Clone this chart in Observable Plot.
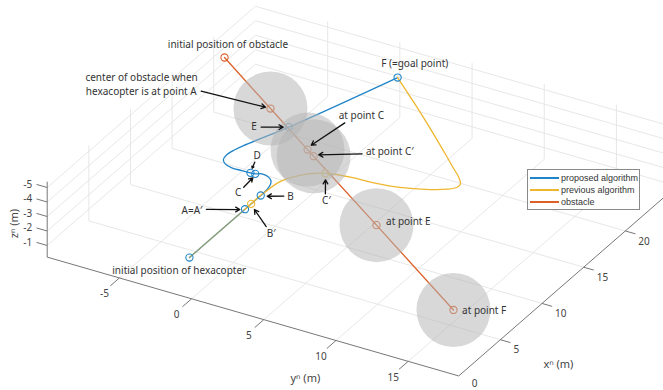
<!DOCTYPE html>
<html><head><meta charset="utf-8">
<script src="https://cdn.jsdelivr.net/npm/d3@7"></script>
<script src="https://cdn.jsdelivr.net/npm/@observablehq/plot@0.6"></script>
<style>
html,body{margin:0;padding:0;background:#fff;overflow:hidden;width:663px;height:390px}
#wrap{position:relative;width:663px;height:390px}
#legend{position:absolute;left:527px;top:169px;width:111px;height:39px;background:#fff;border:1px solid #8a8a8a;font:9px "Liberation Sans",Arial,sans-serif;color:#333}
#legend div{position:absolute;left:2px;height:12px;line-height:12px;white-space:nowrap;padding-left:31px}
#legend i{position:absolute;left:0;top:5px;width:29px;height:2px;display:block}
</style></head><body><div id="wrap"></div>
<script>
// navigation-frame data, all flown at one altitude (m)
const altitude = -3;
const xLim = [0, 25], yLim = [-10, 18.5], zLim = [-0.2, -5.4];
const xTicks = [5, 10, 15, 20], xLabels = [0, 5, 10, 15, 20];
const yTicks = [-5, 0, 5, 10, 15];
const zTicks = [-1, -2, -3, -4, -5];

const proposedX = [0,6.67,8.56,9.24,9.95,10.42,10.74,10.84,10.64,10.60,10.58,10.56,10.78,11.17,11.76,12.56,13.22,16.48,24.87];
const proposedY = [-0.15,-0.15,-0.15,-0.16,-0.29,-0.52,-0.92,-1.39,-1.73,-2.04,-2.63,-3.31,-3.89,-4.24,-4.35,-4.22,-4.03,-2.78,-0.08];
const previousX = [6.67,7.41,8.55,9.27,10.33,11.19,12.02,12.50,12.80,13.14,13.22,13.41,13.77,14.25,14.79,15.29,15.74,16.38,17.10,18.10,20.54,22.80,24.87];
const previousY = [-0.15,-0.15,-0.17,-0.11,-0.03,0.27,0.83,1.36,1.88,3.42,4.76,6.04,7.22,8.32,9.17,9.57,9.54,9.05,8.29,7.26,4.69,2.23,-0.08];
const obstacleX = [21.77,17.86,14.72,14.21,8.95,2.47];
const obstacleY = [-10.28,-4.84,-0.46,0.25,7.64,16.71];
const sharedX = [0,6.67], sharedY = [-0.15,-0.15];

const proposedMarkX = [0,6.67,8.56,10.64,10.60,16.48,24.87];
const proposedMarkY = [-0.15,-0.15,-0.15,-1.73,-2.04,-2.78,-0.08];
const previousMarkX = [7.41,12.80];
const previousMarkY = [-0.15,1.88];
const sphereX = [17.86,14.72,14.21,8.95,2.47];
const sphereY = [-4.84,-0.46,0.25,7.64,16.71];

const noteText = ["initial position of obstacle","E","at point C","at point C′","at point E","at point F","F (=goal point)","initial position of hexacopter","A=A′","B′","B","C′","C","D"];
const noteX = [23.19,15.44,19.83,16.90,10.21,3.33,26.80,-1.64,4.92,4.91,9.35,10.01,8.19,12.56];
const noteY = [-10.86,-4.59,0.32,3.97,9.12,18.34,-0.01,0.09,-2.81,2.68,1.45,3.56,-1.50,-2.71];
const centerNoteLines = ["center of obstacle when","hexacopter is at point A"];
const centerNoteX = [15.49,14.05], centerNoteY = [-16.29,-15.43];

const arrowX1 = [17.58,15.65,18.60,15.91,5.49,5.51,9.18,10.67,8.91,11.83];
const arrowY1 = [-9.48,-4.21,-0.12,2.63,-2.14,1.99,1.09,3.11,-1.53,-2.45];
const arrowX2 = [17.85,16.31,15.28,14.51,6.48,6.92,8.68,12.12,10.16,11.13];
const arrowY2 = [-5.18,-3.07,-0.53,0.43,-0.40,0.36,0.23,2.28,-1.62,-2.23];

const legendNames = ["proposed algorithm","previous algorithm","obstacle"];
const blue = "#1f84c8", yellow = "#efb72f", orange = "#dc6028";
const legendColors = [blue, yellow, orange];

// orthographic view of the MATLAB 3-D axes
const view = (x, y, z = altitude) => [
  46.7 + 8.33 * x + 14.44 * (y + 10),
  259.5 - 7.25 * x + 4.17 * (y + 10) + 14.5 * z
];
const pts = (xs, ys) => xs.map((x, i) => { const [u, v] = view(x, ys[i]); return {u, v}; });
const seg = (a, b) => { const [u1, v1] = view(...a), [u2, v2] = view(...b); return {u1, v1, u2, v2}; };
const [x0, x1] = xLim, [y0, y1] = yLim, [zf, zt] = zLim;

const grid = [
  ...xTicks.map(x => seg([x, y0, zf], [x, y1, zf])),
  ...yTicks.map(y => seg([x0, y, zf], [x1, y, zf])),
  ...xTicks.map(x => seg([x, y0, zf], [x, y0, zt])),
  ...yTicks.map(y => seg([x1, y, zf], [x1, y, zt])),
  ...zTicks.map(z => seg([x0, y0, z], [x1, y0, z])),
  ...zTicks.map(z => seg([x1, y0, z], [x1, y1, z]))
];
const axes = [
  seg([x0, y0, zf], [x0, y1, zf]),
  seg([x0, y1, zf], [x1, y1, zf]),
  seg([x0, y0, zf], [x0, y0, zt])
];
const ticks = [
  ...yTicks.map(y => seg([0, y, zf], [-1.1, y, zf])),
  ...xTicks.map(x => seg([x, y1, zf], [x, y1 + 0.7, zf])),
  ...zTicks.map(z => seg([x0, y0, z], [x0, y0 - 0.74, z]))
];
const at = (a) => { const [u, v] = view(...a); return {u, v}; };
const common = {x: "u", y: "v"};
const font = "'Noto Sans', sans-serif";
const noteSize = 10, tickSize = 10, axisSize = 11;

const notes = noteText.map((text, i) => ({text, ...at([noteX[i], noteY[i]])}));
const centerNotes = centerNoteLines.map((text, i) => ({text, ...at([centerNoteX[i], centerNoteY[i]])}));
const arrows = arrowX1.map((_, i) => seg([arrowX1[i], arrowY1[i]], [arrowX2[i], arrowY2[i]]));

const chart = Plot.plot({
  width: 663, height: 390, margin: 0,
  x: {domain: [0, 663], range: [0, 663], axis: null},
  y: {domain: [0, 390], range: [0, 390], axis: null},
  style: {fontFamily: font, background: "transparent"},
  marks: [
    Plot.link(grid, {x1: "u1", y1: "v1", x2: "u2", y2: "v2", stroke: "#e4e4e4", strokeWidth: 0.9}),
    Plot.link(axes, {x1: "u1", y1: "v1", x2: "u2", y2: "v2", stroke: "#777", strokeWidth: 1}),
    Plot.link(ticks, {x1: "u1", y1: "v1", x2: "u2", y2: "v2", stroke: "#777", strokeWidth: 1}),
    Plot.line(pts(obstacleX, obstacleY), {...common, stroke: orange, strokeWidth: 1.3}),
    Plot.line(pts(proposedX, proposedY), {...common, stroke: blue, strokeWidth: 1.3, curve: "catmull-rom"}),
    Plot.line(pts(previousX, previousY), {...common, stroke: yellow, strokeWidth: 1.3, curve: "catmull-rom"}),
    Plot.line(pts(sharedX, sharedY), {...common, stroke: yellow, strokeOpacity: 0.55, strokeWidth: 1.3}),
    Plot.dot(pts(proposedMarkX, proposedMarkY), {...common, r: 3.6, stroke: blue, strokeWidth: 1.1}),
    Plot.dot(pts(previousMarkX, previousMarkY), {...common, r: 3.6, stroke: yellow, strokeWidth: 1.1}),
    Plot.dot(pts(obstacleX, obstacleY), {...common, r: 3.6, stroke: orange, strokeWidth: 1.1}),
    Plot.dot(pts(sphereX, sphereY), {...common, r: 37, fill: "#b4b4b4", fillOpacity: 0.52, stroke: "none"}),
    Plot.arrow(arrows, {x1: "u1", y1: "v1", x2: "u2", y2: "v2", stroke: "#111", strokeWidth: 1.3, headLength: 5.5, headAngle: 60, bend: 0}),
    Plot.text(notes, {...common, text: "text", fontSize: noteSize, fill: "#333"}),
    Plot.text(centerNotes, {...common, text: "text", fontSize: noteSize, fill: "#333", textAnchor: "start"}),
    Plot.text(yTicks.map(y => ({...at([0, y, zf]), text: String(y)})), {...common, text: "text", dx: -15, dy: 16, fontSize: tickSize, fill: "#444"}),
    Plot.text(xLabels.filter(x => x > 0).map(x => ({...at([x, y1, zf]), text: String(x)})), {...common, text: "text", dx: 13, dy: 10.5, textAnchor: "start", fontSize: tickSize, fill: "#444"}),
    Plot.text(xLabels.filter(x => x === 0).map(x => ({...at([x, y1, zf]), text: String(x)})), {...common, text: "text", dx: 13, dy: 8, textAnchor: "start", fontSize: tickSize, fill: "#444"}),
    Plot.text(zTicks.map(z => ({...at([x0, y0, z]), text: String(z)})), {...common, text: "text", dx: -15, dy: -3, textAnchor: "end", fontSize: tickSize, fill: "#444"}),
    Plot.text([{...at([0, 8.5, zf]), text: "yⁿ (m)"}], {...common, text: "text", dx: -9, dy: 44, fontSize: axisSize, fill: "#444"}),
    Plot.text([{...at([5, y1, zf]), text: "xⁿ (m)"}], {...common, text: "text", dx: 58, dy: 25, fontSize: axisSize, fill: "#444"}),
    Plot.text([{...at([x0, y0, -3]), text: "zⁿ (m)"}], {...common, text: "text", dx: -33, dy: 7, rotate: -90, fontSize: axisSize, fill: "#444"})
  ]
});
const wrap = document.getElementById("wrap");
wrap.appendChild(chart);
const lg = document.createElement("div");
lg.id = "legend";
legendNames.forEach((name, i) => {
  const row = document.createElement("div");
  row.style.top = (2 + i * 12) + "px";
  const sw = document.createElement("i");
  sw.style.background = legendColors[i];
  row.appendChild(sw);
  row.appendChild(document.createTextNode(name));
  lg.appendChild(row);
});
wrap.appendChild(lg);
</script></body></html>
